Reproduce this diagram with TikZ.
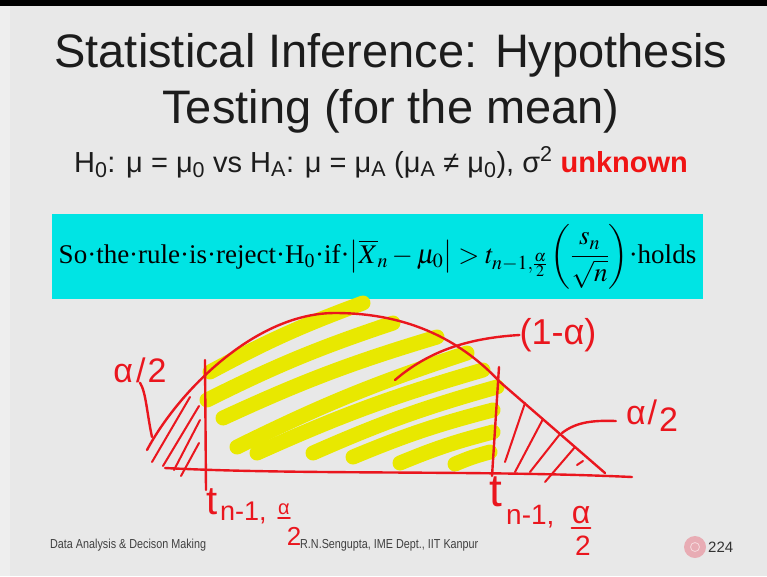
\documentclass[tikz,border=0pt]{standalone}
\usepackage{amsmath}
\usepackage{mathptmx}
\usepackage[no-math]{fontspec}
\setmainfont{Liberation Sans}
\newfontfamily\slideserif{Liberation Serif}
\usetikzlibrary{positioning}
\definecolor{slidebg}{RGB}{232,232,232}
\definecolor{slideedge}{RGB}{238,238,238}
\definecolor{boxcyan}{RGB}{0,228,228}
\definecolor{penred}{RGB}{234,22,30}
\definecolor{unkred}{RGB}{240,20,20}
\definecolor{markyellow}{RGB}{232,232,0}
\definecolor{iconpink}{RGB}{232,172,180}
\definecolor{titleink}{RGB}{28,28,28}

\begin{document}
\begin{tikzpicture}[
  x=1pt,y=-1pt,
  title/.style={anchor=base,inner sep=0pt,text=titleink,font=\fontsize{47}{47}\selectfont},
  rulebox/.style={fill=boxcyan,inner sep=0pt,minimum width=651pt,minimum height=85pt,
                  font=\slideserif\fontsize{27}{30}\selectfont},
  foot/.style={anchor=base west,inner sep=0pt,text=black!75,font=\fontsize{13}{13}\selectfont},
  pen/.style={draw=penred,line width=2.4pt,line cap=round,line join=round},
  hatch/.style={pen,line width=2pt},
  hilite/.style={draw=markyellow,line width=15pt,line cap=round},
  ink/.style={text=penred,inner sep=0pt,font=\fontsize{#1}{#1}\selectfont}
]
\useasboundingbox (0,0) rectangle (767,576);
\fill[slidebg] (0,0) rectangle (767,576);
\fill[slideedge] (0,0) rectangle (10,576);
\fill[black] (0,0) rectangle (767,6);

% heading
\node[title] (title1) at (391,67) {Statistical Inference: Hypothesis};
\node[title] (title2) at (391,123) {Testing (for the mean)};
\node[anchor=base,inner sep=0pt,text=titleink,font=\fontsize{29}{29}\selectfont] (hyp) at (381,172)
  {H\textsubscript{0}: μ = μ\textsubscript{0} vs H\textsubscript{A}: μ = μ\textsubscript{A} (μ\textsubscript{A} ≠ μ\textsubscript{0}), σ\textsuperscript{2} \textcolor{unkred}{\textbf{unknown}}};

% rule
\node[rulebox] (rule) at (377.5,256.5)
  {So·the·rule·is·reject·H\textsubscript{0}·if·$\left|\overline{X}_n-\mu_0\right|>t_{n-1,\frac{\alpha}{2}}\left(\dfrac{s_n}{\sqrt{n}}\right)$·holds};

% highlighter strokes
\foreach \xa/\ya/\xb/\yb in {210/372/363/303, 207/400/393/323, 223/418/437/337,
    237/447/467/353, 257/453/483/370, 313/453/497/387, 353/457/493/410,
    400/463/493/432, 455/464/490/452}
  \draw[hilite] (\xa,\ya) to[bend left=4] (\xb,\yb);

% density, axis and critical lines
\draw[pen] (147,450) .. controls (178,392) and (255,313) .. (335,313)
  .. controls (420,313) and (470,350) .. (500,382) -- (605,473);
\draw[pen] (165,468) .. controls (300,475) and (480,470) .. (632,477);
\draw[pen] (205,360) -- (206,490);
\draw[pen] (499,367) -- (492,476);

% tails
\foreach \xa/\ya/\xb/\yb in {152/462/190/397, 163/466/199/406, 174/470/200/420, 181/476/199/443}
  \draw[hatch] (\xa,\ya) -- (\xb,\yb);
\foreach \xa/\ya/\xb/\yb in {505/462/525/403, 515/472/543/419, 530/472/560/434, 545/482/575/447, 577/465/583/461}
  \draw[hatch] (\xa,\ya) -- (\xb,\yb);

% labels
\coordinate (tailL) at (152,437);
\coordinate (midC) at (395,380);
\coordinate (tailR) at (562,433);
\node[ink=34] (aL) at (140,370) {α\hspace{3pt}/\hspace{2pt}2};
\draw[pen] (aL.south) .. controls (146,392) and (147,414) .. (tailL);
\node[ink=36] (oneminus) at (558,335) {(1-α)};
\draw[pen] (oneminus.west) .. controls (470,338) and (430,350) .. (midC);
\node[ink=34] (aR) at (652,416) {α\kern2pt/\kern2pt\raisebox{-7pt}{2}};
\draw[pen] ([xshift=-10pt,yshift=-5pt]aR.west) .. controls (590,420) and (575,423) .. (tailR);

% critical values
\node[ink=40,anchor=north] (tL) at (212,488) {t};
\node[ink=27,anchor=base west] (subL) at (220,520) {n-1,};
\node[ink=20,anchor=base] (alphaL) at (284,514) {α};
\draw[pen,line width=2pt] ([yshift=-4pt]alphaL.south west) -- ([yshift=-4pt]alphaL.south east);
\node[ink=26,anchor=base] (twoL) at (294,545) {2};
\node[ink=46,anchor=north] (tR) at (496,477) {t};
\node[ink=28,anchor=base west] (subR) at (506,524) {n-1,};
\node[ink=32,anchor=base] (alphaR) at (581,523) {α};
\draw[pen,line width=2pt] ([yshift=-4pt]alphaR.south west) -- ([yshift=-4pt]alphaR.south east);
\node[ink=28,anchor=base] (twoR) at (583,555) {2};

% footer
\node[foot] (course) at (50,548) {\scalebox{0.83}[1]{Data Analysis \& Decison Making}};
\node[foot] (author) at (300,548) {\scalebox{0.83}[1]{R.N.Sengupta, IME Dept., IIT Kanpur}};
\node[circle,fill=iconpink,minimum size=22pt,inner sep=0pt] (icon) at (695,547) {};
\node[circle,draw=white!55!iconpink,line width=0.8pt,minimum size=9pt,inner sep=0pt] (iconring) at (icon) {};
\node[anchor=base west,inner sep=0pt,text=black!80,font=\fontsize{15}{15}\selectfont] (page) at (708,552) {224};
\end{tikzpicture}
\end{document}
